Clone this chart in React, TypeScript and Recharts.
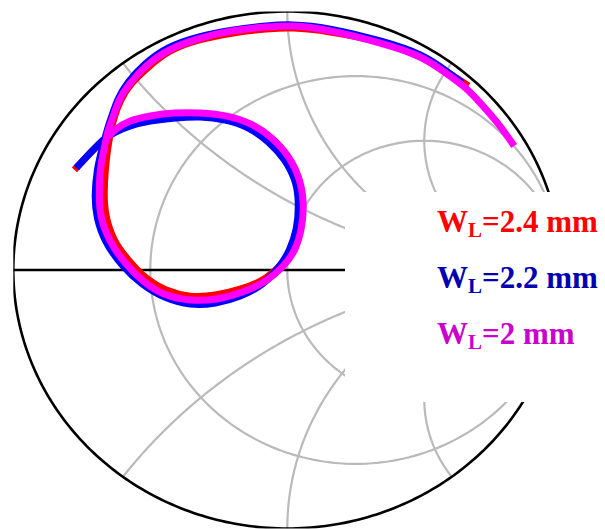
import React from "react"
import { ScatterChart, Scatter, XAxis, YAxis } from "recharts"

const wl24: [number, number][] = [
  [-0.777, 0.387], [-0.726, 0.445], [-0.679, 0.495], [-0.639, 0.526], [-0.573, 0.565],
  [-0.5, 0.584], [-0.409, 0.596], [-0.318, 0.6], [-0.226, 0.588], [-0.142, 0.557],
  [-0.069, 0.503], [-0.007, 0.433], [0.033, 0.344], [0.047, 0.251], [0.04, 0.159],
  [0.015, 0.077], [-0.029, 0.015], [-0.091, -0.039], [-0.172, -0.074], [-0.263, -0.097],
  [-0.354, -0.101], [-0.442, -0.077], [-0.515, -0.031], [-0.58, 0.039], [-0.631, 0.116],
  [-0.661, 0.209], [-0.668, 0.298], [-0.664, 0.387], [-0.655, 0.472], [-0.643, 0.542],
  [-0.631, 0.592], [-0.609, 0.654], [-0.569, 0.72], [-0.507, 0.785], [-0.427, 0.847],
  [-0.321, 0.89], [-0.197, 0.917], [-0.077, 0.932], [0.022, 0.936], [0.157, 0.921],
  [0.336, 0.882], [0.478, 0.828], [0.577, 0.77], [0.661, 0.712],
]

const wl22: [number, number][] = [
  [-0.77, 0.395], [-0.719, 0.453], [-0.672, 0.503], [-0.635, 0.53], [-0.573, 0.557],
  [-0.5, 0.576], [-0.409, 0.588], [-0.318, 0.592], [-0.226, 0.58], [-0.142, 0.549],
  [-0.069, 0.495], [-0.011, 0.426], [0.029, 0.34], [0.04, 0.251], [0.033, 0.162],
  [0.007, 0.077], [-0.033, 0.008], [-0.091, -0.054], [-0.172, -0.101], [-0.263, -0.128],
  [-0.354, -0.132], [-0.445, -0.106], [-0.529, -0.054], [-0.602, 0.019], [-0.661, 0.108],
  [-0.693, 0.201], [-0.701, 0.29], [-0.693, 0.387], [-0.675, 0.472], [-0.657, 0.542],
  [-0.639, 0.6], [-0.617, 0.662], [-0.58, 0.727], [-0.518, 0.797], [-0.434, 0.859],
  [-0.325, 0.901], [-0.201, 0.928], [-0.077, 0.944], [0.022, 0.948], [0.157, 0.932],
  [0.339, 0.886], [0.485, 0.832], [0.58, 0.77], [0.639, 0.723],
]

const wl20: [number, number][] = [
  [-0.653, 0.515], [-0.624, 0.545], [-0.573, 0.576], [-0.5, 0.596], [-0.409, 0.607],
  [-0.318, 0.607], [-0.226, 0.596], [-0.135, 0.565], [-0.058, 0.511], [0.004, 0.437],
  [0.044, 0.348], [0.058, 0.255], [0.051, 0.162], [0.026, 0.077], [-0.018, 0.012],
  [-0.08, -0.043], [-0.164, -0.085], [-0.259, -0.112], [-0.354, -0.116], [-0.445, -0.095],
  [-0.522, -0.046], [-0.591, 0.027], [-0.646, 0.112], [-0.679, 0.205], [-0.686, 0.294],
  [-0.682, 0.387], [-0.668, 0.472], [-0.653, 0.542], [-0.635, 0.596], [-0.613, 0.658],
  [-0.573, 0.723], [-0.511, 0.793], [-0.431, 0.851], [-0.325, 0.894], [-0.201, 0.925],
  [-0.077, 0.94], [0.022, 0.944], [0.157, 0.925], [0.339, 0.878], [0.485, 0.824],
  [0.584, 0.758], [0.646, 0.708], [0.708, 0.642], [0.77, 0.565], [0.828, 0.48],
]

const SERIES = [
  { label: "2.4 mm", data: wl24, stroke: "#ff0000", text: "#ff0000" },
  { label: "2.2 mm", data: wl22, stroke: "#0000ff", text: "#0000b0" },
  { label: "2 mm", data: wl20, stroke: "#ff00ff", text: "#cc00cc" },
]

// Smith chart grid
const R_CIRCLES = [1 / 3, 1, 3]
const X_ARCS = [0.5, 1, 2, -0.5, -1, -2]

const toPts = (arr: [number, number][]) => arr.map(([u, v]) => ({ u, v }))

function arc(cu: number, cv: number, rad: number, a0: number, a1: number, n = 240) {
  const pts = []
  for (let i = 0; i <= n; i++) {
    const a = a0 + ((a1 - a0) * i) / n
    pts.push({ u: cu + rad * Math.cos(a), v: cv + rad * Math.sin(a) })
  }
  return pts
}

function resistanceCircle(r: number) {
  return arc(r / (1 + r), 0, 1 / (1 + r), 0, 2 * Math.PI)
}

function reactanceArc(x: number) {
  const c = 1 / x
  const iu = (x * x - 1) / (x * x + 1)
  const iv = (2 * x) / (x * x + 1)
  const start = x > 0 ? -Math.PI / 2 : Math.PI / 2
  let end = Math.atan2(iv - c, iu - 1)
  if (x > 0) {
    while (end > start) end -= 2 * Math.PI
  } else {
    while (end < start) end += 2 * Math.PI
  }
  return arc(1, c, Math.abs(c), start, end)
}

const noDot = () => <g />

export default function App() {
  const grid = [...R_CIRCLES.map(resistanceCircle), ...X_ARCS.map(reactanceArc)]
  return (
    <div style={{ position: "absolute", left: 0, top: 0, width: 605, height: 529, background: "#fff" }}>
      <ScatterChart width={605} height={529} margin={{ top: 11.5, right: 43.7, bottom: 0.5, left: 13.3 }}>
        <XAxis type="number" dataKey="u" domain={[-1, 1]} hide allowDataOverflow />
        <YAxis type="number" dataKey="v" domain={[-1, 1]} hide allowDataOverflow />
        {grid.map((pts, i) => (
          <Scatter
            key={"g" + i}
            data={pts}
            shape={noDot}
            line={{ stroke: "#bababa", strokeWidth: 2.2, fill: "none" }}
            legendType="none"
            isAnimationActive={false}
          />
        ))}
        <Scatter
          data={arc(0, 0, 1, 0, 2 * Math.PI, 360)}
          shape={noDot}
          line={{ stroke: "#000", strokeWidth: 2.6, fill: "none" }}
          isAnimationActive={false}
        />
        <Scatter
          data={[{ u: -1, v: 0 }, { u: 1, v: 0 }]}
          shape={noDot}
          line={{ stroke: "#000", strokeWidth: 2.4, fill: "none" }}
          isAnimationActive={false}
        />
        {SERIES.map((s) => (
          <Scatter
            key={s.label}
            name={s.label}
            data={toPts(s.data)}
            shape={noDot}
            lineJointType="natural"
            line={{ stroke: s.stroke, strokeWidth: 7, fill: "none", strokeLinejoin: "round" }}
            isAnimationActive={false}
          />
        ))}
      </ScatterChart>
      <svg width={605} height={529} style={{ position: "absolute", left: 0, top: 0, pointerEvents: "none" }}>
        <rect x={345} y={192} width={260} height={210} fill="#fff" />
        {SERIES.map((s, i) => (
          <text
            key={s.label}
            x={437}
            y={232 + i * 56}
            fontFamily="'Liberation Serif', 'Times New Roman', serif"
            fontWeight="bold"
            fontSize={31}
            fill={s.text}
          >
            W
            <tspan fontSize={21} dy={5}>L</tspan>
            <tspan dy={-5}>={s.label}</tspan>
          </text>
        ))}
      </svg>
    </div>
  )
}
